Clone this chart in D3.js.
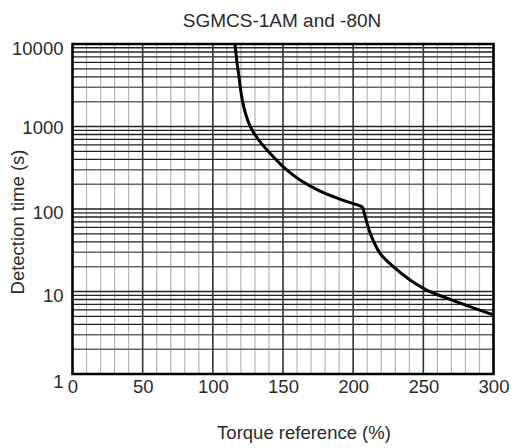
<!DOCTYPE html>
<html>
<head>
<meta charset="utf-8">
<script src="https://cdn.jsdelivr.net/npm/d3@7"></script>
<style>
html,body{margin:0;padding:0;background:#fff;}
svg{display:block;}
text{font-family:"Liberation Sans",Arial,Helvetica,sans-serif;fill:#2a2a2a;}
</style>
</head>
<body>
<svg id="chart" width="515" height="448"></svg>
<script>
const title = "SGMCS-1AM and -80N";
const xLabel = "Torque reference (%)";
const yLabel = "Detection time (s)";
const xTicks = [0, 50, 100, 150, 200, 250, 300];
const yTicks = [1, 10, 100, 1000, 10000];
const torque = [115.8, 117.2, 118.4, 120.4, 123.2, 126.7, 132.6, 143.1, 151.4, 162.1, 176.4, 190.6, 204.9, 206.6, 208.0, 212.1, 219.2, 228.6, 240.5, 252.4, 266.7, 283.3, 300];
const detTime = [10000, 6000, 4300, 2400, 1450, 1000, 690, 430, 311, 225, 165, 132, 109, 105, 88, 51, 29, 20, 13.8, 10.4, 8.3, 6.55, 5.2];

const svg = d3.select("#chart");
const L = 72.5, R = 493.5, T = 44, B = 374;
const x = d3.scaleLinear().domain([0, 300]).range([L, R]);
const y = d3.scaleLog().domain([1, 10000]).range([B, T]);
const FS = 18.5;

const grid = svg.append("g");
d3.range(0, 301, 10).filter(v => v % 50 !== 0).forEach(v => {
  grid.append("line").attr("x1", x(v)).attr("x2", x(v)).attr("y1", T).attr("y2", B)
    .attr("stroke", "#b5b5b5").attr("stroke-width", 1.2);
});
const minors = [];
for (let d = 1; d < 10000; d *= 10) for (let k = 2; k <= 9; k++) minors.push(d * k);
minors.forEach(v => {
  const dark = (v / Math.pow(10, Math.floor(Math.log10(v) + 1e-9))) >= 4;
  grid.append("line").attr("x1", L).attr("x2", R).attr("y1", y(v)).attr("y2", y(v))
    .attr("stroke", dark ? "#222" : "#666").attr("stroke-width", dark ? 1.3 : 1.5);
});
xTicks.forEach(v => {
  grid.append("line").attr("x1", x(v)).attr("x2", x(v)).attr("y1", T).attr("y2", B)
    .attr("stroke", "#333").attr("stroke-width", 1.6);
});
yTicks.forEach(v => {
  grid.append("line").attr("x1", L).attr("x2", R).attr("y1", y(v)).attr("y2", y(v))
    .attr("stroke", "#222").attr("stroke-width", 1.5);
});

const pts = torque.map((t, i) => [t, detTime[i]]);
svg.append("path").datum(pts)
  .attr("fill", "none").attr("stroke", "#000").attr("stroke-width", 3)
  .attr("stroke-linejoin", "round")
  .attr("d", d3.line().x(d => x(d[0])).y(d => y(d[1])).curve(d3.curveCatmullRom.alpha(0.5)));

svg.append("rect").attr("x", L).attr("y", T).attr("width", R - L).attr("height", B - T)
  .attr("fill", "none").attr("stroke", "#000").attr("stroke-width", 2.5);

const xAxis = d3.axisBottom(x).tickValues(xTicks).tickSize(0).tickPadding(0).tickFormat(d3.format("d"));
const gx = svg.append("g").attr("transform", `translate(0,${B})`).call(xAxis);
gx.select(".domain").remove();
gx.selectAll("text").attr("dy", null).attr("y", 19).style("font-size", FS + "px")
  .style("font-family", "'Liberation Sans',Arial,sans-serif").attr("fill", "#2a2a2a");

const yOff = {1: 8, 10: 4, 100: 4, 1000: 1, 10000: 5};
const yAxis = d3.axisLeft(y).tickValues(yTicks).tickSize(0).tickPadding(9).tickFormat(d3.format("d"));
const gy = svg.append("g").attr("transform", `translate(${L},0)`).call(yAxis);
gy.select(".domain").remove();
gy.selectAll("text").attr("dy", d => (0.32 * FS + yOff[d]) + "px").style("font-size", FS + "px")
  .style("font-family", "'Liberation Sans',Arial,sans-serif").attr("fill", "#2a2a2a");

svg.append("text").attr("x", 282).attr("y", 27).attr("text-anchor", "middle")
  .style("font-size", "19px").text(title);
svg.append("text").attr("x", 304).attr("y", 439).attr("text-anchor", "middle")
  .style("font-size", "18.5px").text(xLabel);
svg.append("text").attr("transform", "translate(24,222) rotate(-90)").attr("text-anchor", "middle")
  .style("font-size", "18.5px").text(yLabel);
</script>
</body>
</html>
